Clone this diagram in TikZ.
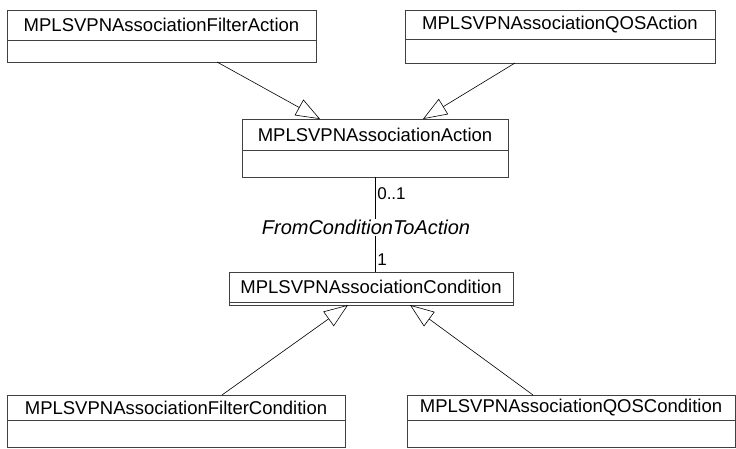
\documentclass[tikz,border=0pt]{standalone}
\usepackage{fontspec}
\setmainfont{Liberation Sans}
\usetikzlibrary{arrows.meta,positioning}

\begin{document}
\begin{tikzpicture}[
  x=1pt,y=-1pt,
  node distance=0pt,
  >={Triangle[open,length=24pt,width=18pt]},
  class name/.style={draw=black!75,line width=0.6pt,inner sep=0pt,outer sep=0pt,
    font=\fontsize{18.5}{22}\selectfont},
  class attr/.style={class name,font=\small},
  inherit/.style={->,line width=0.6pt},
  assoc/.style={line width=0.6pt},
  mult/.style={font=\fontsize{17}{20}\selectfont,inner sep=2pt}]
  \useasboundingbox (0,0) rectangle (736,448);
  % f-filter q-qos a-action c-condition
  \node [class name,minimum width=309pt,minimum height=30pt] (fa) at (161.5,25) {MPLSVPNAssociationFilterAction};
  \node [class attr,minimum width=309pt,minimum height=22pt,below=of fa] (fa') {};
  \node [class name,minimum width=310pt,minimum height=29pt] (qa) at (560,24.5) {MPLSVPNAssociationQOSAction};
  \node [class attr,minimum width=310pt,minimum height=24pt,below=of qa] (qa') {};
  \node [class name,minimum width=266pt,minimum height=31pt] (aa) at (375,134.5) {MPLSVPNAssociationAction};
  \node [class attr,minimum width=266pt,minimum height=27pt,below=of aa] (aa') {};
  \node [class name,minimum width=284pt,minimum height=30pt] (ac) at (371,287) {MPLSVPNAssociationCondition};
  \node [class attr,minimum width=284pt,minimum height=3pt,below=of ac] (ac') {};
  \node [class name,minimum width=338pt,minimum height=25pt] (fc) at (176,407.5) {MPLSVPNAssociationFilterCondition};
  \node [class attr,minimum width=338pt,minimum height=27pt,below=of fc] (fc') {};
  \node [class name,minimum width=328pt,minimum height=25pt] (qc) at (571,407.5) {MPLSVPNAssociationQOSCondition};
  \node [class attr,minimum width=328pt,minimum height=27pt,below=of qc] (qc') {};
  % generalisations
  \draw [inherit] ([xshift=55.5pt]fa'.south) -- ([xshift=-55pt]aa.north);
  \draw [inherit] ([xshift=-45pt]qa'.south) -- ([xshift=48pt]aa.north);
  \draw [inherit] ([xshift=46pt]fc.north) -- ([xshift=-23pt]ac'.south);
  \draw [inherit] ([xshift=-38pt]qc.north) -- ([xshift=39pt]ac'.south);
  % association
  \draw [assoc] (aa'.south) -- (aa'.south |- ac.north)
    node [mult,pos=.17,right] {0..1}
    node [pos=.53,fill=white,inner sep=1pt,xshift=-9pt,font=\fontsize{20}{24}\selectfont\itshape] {FromConditionToAction}
    node [mult,pos=.87,right] {1};
\end{tikzpicture}
\end{document}
